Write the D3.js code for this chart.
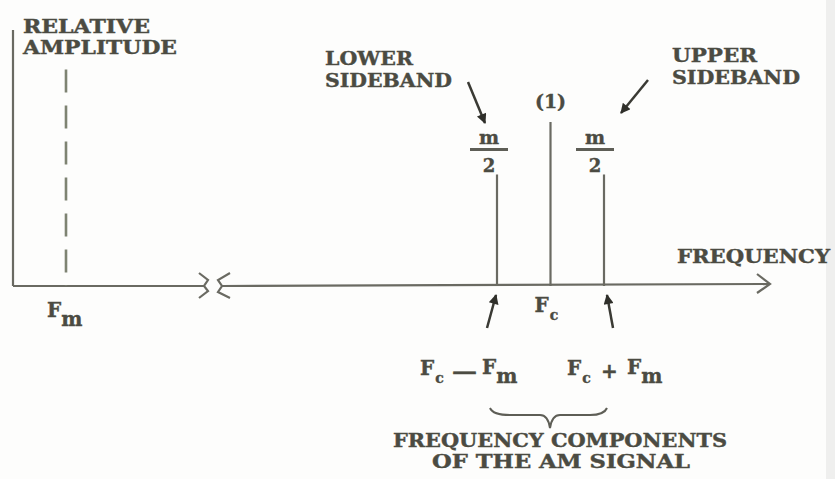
<!DOCTYPE html>
<html>
  <head>
    <title>AM Spectrum</title>
    <script src="https://d3js.org/d3.v7.min.js"></script>
    <style>
      body { margin: 0; background: #fdfdfc; }
      svg text { font-family: "DejaVu Serif", "Liberation Serif", serif; font-weight: bold; fill: #4b4b42; stroke: #4b4b42; stroke-width: 0.4; }
    </style>
  </head>
  <body>
    <script>
      // spectral components of the AM signal (frequency in arbitrary units, Fm = 1, Fc = 10)
      const components = ['Fc - Fm', 'Fc', 'Fc + Fm'];
      const freqs = [9, 10, 11];
      const amps = [0.68, 1, 0.68];
      const ampLabels = ['m/2', '(1)', 'm/2'];
      const modFreq = 1;
      const modAmp = 1.32;

      const w = 835;
      const h = 479;
      const ink = '#6a6a62';

      // broken frequency axis: piecewise scale, the break lies between Fm and Fc - Fm
      const xScale = d3.scaleLinear()
                       .domain([0, 1, 9, 11])
                       .range([13, 66, 497, 604]);
      const yScale = d3.scaleLinear()
                       .domain([0, 1])
                       .range([286, 122]);

      const svg = d3.select('body')
                    .append('svg')
                    .attr('width', w)
                    .attr('height', h);

      svg.append('rect').attr('x', 826).attr('y', 0).attr('width', 9).attr('height', h).attr('fill', '#efefee');

      const defs = svg.append('defs');
      defs.append('marker')
          .attr('id', 'head')
          .attr('viewBox', '0 0 10 10')
          .attr('refX', 9).attr('refY', 5)
          .attr('markerWidth', 5).attr('markerHeight', 4)
          .attr('markerUnits', 'strokeWidth')
          .attr('orient', 'auto')
          .append('path')
          .attr('d', 'M0,0 L10,5 L0,10 Z')
          .attr('fill', '#2f2f2a');

      const y0 = yScale(0);

      // vertical axis
      svg.append('line')
         .attr('x1', xScale(0)).attr('x2', xScale(0))
         .attr('y1', 30).attr('y2', y0)
         .attr('stroke', ink).attr('stroke-width', 2.2);

      // horizontal axis with break
      svg.append('line')
         .attr('x1', xScale(0)).attr('x2', 204)
         .attr('y1', y0).attr('y2', y0)
         .attr('stroke', ink).attr('stroke-width', 2.2);
      svg.append('path')
         .attr('d', `M199,${y0 - 13} L208,${y0 - 6} L204,${y0} L208,${y0 + 5} L199,${y0 + 12}`)
         .attr('fill', 'none').attr('stroke', ink).attr('stroke-width', 2.2);
      svg.append('path')
         .attr('d', `M230,${y0 - 13} L218,${y0 - 6} L222,${y0} L218,${y0 + 6} L230,${y0 + 12}`)
         .attr('fill', 'none').attr('stroke', ink).attr('stroke-width', 2.2);
      svg.append('line')
         .attr('x1', 222).attr('x2', 770)
         .attr('y1', y0).attr('y2', y0 - 2)
         .attr('stroke', ink).attr('stroke-width', 2.2);
      svg.append('path')
         .attr('d', `M757,${y0 - 12} L770,${y0 - 2} L757,${y0 + 7}`)
         .attr('fill', 'none').attr('stroke', ink).attr('stroke-width', 2.2);

      // modulating frequency, dashed
      svg.append('line')
         .attr('x1', xScale(modFreq)).attr('x2', xScale(modFreq))
         .attr('y1', yScale(modAmp)).attr('y2', y0)
         .attr('stroke', '#7e8372').attr('stroke-width', 2.6)
         .attr('stroke-dasharray', '23 13');

      // carrier and sidebands
      svg.selectAll('line.comp')
         .data(freqs)
         .enter()
         .append('line')
         .attr('class', 'comp')
         .attr('x1', d => xScale(d)).attr('x2', d => xScale(d))
         .attr('y1', (d, i) => yScale(amps[i])).attr('y2', y0)
         .attr('stroke', ink).attr('stroke-width', 2.2);

      // amplitude labels
      ampLabels.forEach((lab, i) => {
        const cx = xScale(freqs[i]) + (i === 0 ? -8 : i === 2 ? -9 : 0);
        if (lab === '(1)') {
          svg.append('text').attr('x', cx).attr('y', 108)
             .attr('text-anchor', 'middle').attr('font-size', 19).text(lab);
        } else {
          const [num, den] = lab.split('/');
          svg.append('text').attr('x', cx).attr('y', 144)
             .attr('text-anchor', 'middle').attr('font-size', 19).text(num);
          svg.append('line').attr('x1', cx - 19).attr('x2', cx + 19)
             .attr('y1', 149.5).attr('y2', 149.5)
             .attr('stroke', '#5e5e56').attr('stroke-width', 3);
          svg.append('text').attr('x', cx).attr('y', 172)
             .attr('text-anchor', 'middle').attr('font-size', 18).text(den);
        }
      });

      function label(x, y, str, size, len) {
        const t = svg.append('text').attr('x', x).attr('y', y)
                     .attr('font-size', size).text(str);
        if (len) t.attr('textLength', len).attr('lengthAdjust', 'spacingAndGlyphs');
        return t;
      }

      label(23, 33, 'RELATIVE', 18, 127);
      label(23, 54, 'AMPLITUDE', 18, 154);
      label(325, 65, 'LOWER', 19, 88);
      label(325, 87, 'SIDEBAND', 19, 127);
      label(672, 62, 'UPPER', 19, 85);
      label(672, 84, 'SIDEBAND', 19, 128);
      label(677, 263, 'FREQUENCY', 18, 153);
      label(393, 447, 'FREQUENCY COMPONENTS', 18, 334);
      label(432, 468, 'OF THE AM SIGNAL', 18, 258);

      // F with subscript
      function fsub(x, y, sub) {
        const t = svg.append('text').attr('x', x).attr('y', y).attr('font-size', 20);
        t.append('tspan').text('F');
        if (sub === 'm') {
          t.append('tspan').attr('dy', 9).attr('dx', 0).attr('font-size', 20).text(sub);
        } else {
          t.append('tspan').attr('dy', 8).attr('dx', 1).attr('font-size', 14).text(sub);
        }
        return t;
      }

      fsub(xScale(modFreq) - 19, 317, 'm');
      fsub(xScale(freqs[1]) - 16, 312, 'c');

      // sideband frequency labels: Fc - Fm and Fc + Fm
      const lowLab = components[0].split(' ');
      const upLab = components[2].split(' ');
      fsub(420, 375, lowLab[0].slice(1));
      label(452, 378, '\u2014', 18, 25);
      fsub(482, 374, lowLab[2].slice(1));
      fsub(567, 375, upLab[0].slice(1));
      label(601, 378, upLab[1], 20);
      fsub(627, 374, upLab[2].slice(1));

      // pointer arrows
      const pointers = [
        [468, 82, 485, 123],
        [648, 80, 621, 113],
        [487, 328, 496, 295],
        [613, 328, 607, 295]
      ];
      svg.selectAll('line.ptr')
         .data(pointers)
         .enter()
         .append('line')
         .attr('class', 'ptr')
         .attr('x1', d => d[0]).attr('y1', d => d[1])
         .attr('x2', d => d[2]).attr('y2', d => d[3])
         .attr('stroke', '#3a3a34').attr('stroke-width', 2.5)
         .attr('marker-end', 'url(#head)');

      // brace under the sideband labels
      svg.append('path')
         .attr('d', 'M490,408 Q493,415 510,415 L540,415 Q548,415 550,428 Q552,415 560,415 L590,415 Q604,415 607,408')
         .attr('fill', 'none').attr('stroke', '#5e5e56').attr('stroke-width', 2);
    </script>
  </body>
</html>
